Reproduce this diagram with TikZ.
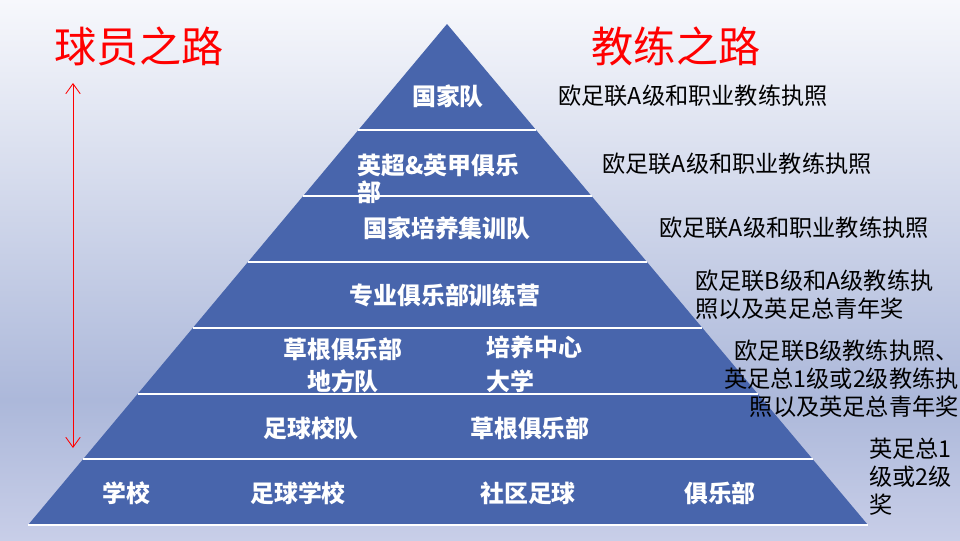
\documentclass[tikz,border=0pt]{standalone}
\usepackage{fontspec}
\setmainfont{Noto Sans CJK SC}
\usetikzlibrary{calc,arrows.meta}
\definecolor{pyrblue}{RGB}{72,101,172}
\definecolor{bgtop}{RGB}{247,248,252}
\definecolor{bgdark}{RGB}{172,184,218}
\definecolor{bglow}{RGB}{200,206,232}
\tikzset{
  layertext/.style={text=white, font=\bfseries\fontsize{17}{20}\selectfont, inner sep=0pt},
  licence/.style={text=black, font=\fontsize{16.5}{19.8}\selectfont, inner sep=0pt},
  pathtitle/.style={text=red, font=\fontsize{30}{36}\selectfont, inner sep=0pt},
}
\begin{document}
\begin{tikzpicture}[x=0.025cm,y=-0.025cm]
            \useasboundingbox (0,0) rectangle (960,540);
            \shade[top color=bgtop,bottom color=bgdark] (0,0) rectangle (960,400);
            \shade[top color=bgdark,bottom color=bglow] (0,400) rectangle (960,540);
            % pyramid
            \coordinate (apex) at (447,24);
            \coordinate (bl) at (28,525);
            \coordinate (br) at (868,525);
            \fill[pyrblue] (apex) -- (bl) -- (br) -- cycle;
            \foreach \t in {0.2116,0.3433,0.4750,0.6068,0.7385,0.8683}
                \draw[white, line width=0.8pt] ($(apex)!\t!(bl)$) -- ($(apex)!\t!(br)$);
            \draw[white, line width=0.8pt] (bl) -- (br);
            % titles and arrow
            \node[pathtitle] (player) at (139,46) {球员之路};
            \node[pathtitle] (coach) at (676,46) {教练之路};
            \coordinate (uptop) at (73,83);
            \coordinate (upbot) at (73,448);
            \draw[red, line width=0.6pt, {Straight Barb[length=2.5mm,width=3.6mm]}-{Straight Barb[length=2.5mm,width=3.6mm]}] (uptop) -- (upbot);
            % layers
            \node[layertext] (nt) at (448,96) {国家队};
            \node[layertext, anchor=west, align=left, font=\bfseries\fontsize{17}{19.8}\selectfont] (prem) at (357,179) {英超\&英甲俱乐\\部};
            \node[layertext] (dev) at (447,228) {国家培养集训队};
            \node[layertext] (camp) at (445,295) {专业俱乐部训练营};
            \node[layertext, align=center, font=\bfseries\fontsize{17}{22.7}\selectfont] (grass) at (343,365) {草根俱乐部\\地方队};
            \node[layertext, anchor=west, align=left, font=\bfseries\fontsize{17}{24}\selectfont] (centre) at (486,364) {培养中心\\大学};
            \node[layertext] (steam) at (311,428) {足球校队};
            \node[layertext] (gclub) at (530,428) {草根俱乐部};
            \node[layertext] (school) at (126,493) {学校};
            \node[layertext] (fschool) at (298,493) {足球学校};
            \node[layertext] (comm) at (528,493) {社区足球};
            \node[layertext] (club) at (720,493) {俱乐部};
            % licences
            \node[licence, anchor=west] (lic1) at (558,96) {欧足联A级和职业教练执照};
            \node[licence, anchor=west] (lic2) at (602,164) {欧足联A级和职业教练执照};
            \node[licence, anchor=west] (lic3) at (659,228) {欧足联A级和职业教练执照};
            \node[licence, anchor=west, align=left] (lic4) at (695,295) {欧足联B级和A级教练执\\照以及英足总青年奖};
            \node[licence, anchor=east, align=right] (lic5) at (959,379) {欧足联B级教练执照、\\英足总1级或2级教练执\\照以及英足总青年奖};
            \node[licence, anchor=west, align=left] (lic6) at (869,477) {英足总1\\级或2级\\奖};
        \end{tikzpicture}
\end{document}
